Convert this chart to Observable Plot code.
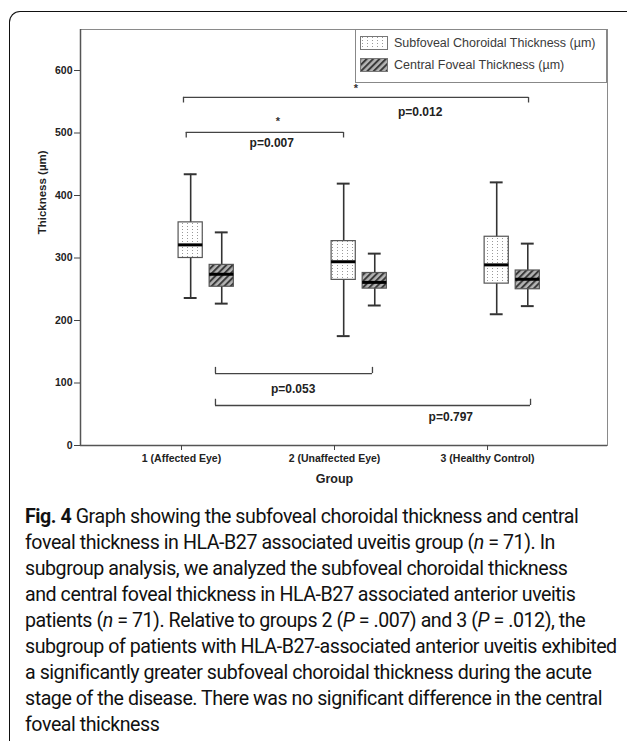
<!DOCTYPE html>
<html><head><meta charset="utf-8">
<script src="https://cdn.jsdelivr.net/npm/d3@7"></script>
<script src="https://cdn.jsdelivr.net/npm/@observablehq/plot@0.6"></script>
<style>
body{margin:0;background:#fff;width:627px;height:741px;overflow:hidden;position:relative;font-family:"Liberation Sans",Arial,sans-serif}
#outer{position:absolute;left:9px;top:11px;width:660px;height:780px;border-top:1.6px solid #111;border-left:1.6px solid #111;border-top-left-radius:11px;box-sizing:border-box}
#chart{position:absolute;left:0;top:0}
#legend{position:absolute;left:355px;top:29px;width:252px;height:54px;border:1px solid #888;box-sizing:border-box;background:#fff;font-size:12.5px;color:#3a3a3a}
#legend .item{position:absolute;left:4px;height:14px;display:flex;align-items:center;white-space:nowrap}
#legend svg{margin-right:6px}
#caption{position:absolute;left:25px;top:504px;font-family:Roboto,sans-serif;font-size:16.5px;line-height:26px;color:#111}
#caption div{white-space:nowrap}
#caption b{font-weight:700}
</style></head>
<body>
<svg width="0" height="0" style="position:absolute">
<defs>
<pattern id="dots" patternUnits="userSpaceOnUse" width="5" height="3">
<rect width="5" height="3" fill="#fff"/>
<rect x="2" y="1" width="1" height="1" fill="#999"/>
</pattern>
<pattern id="hatch" patternUnits="userSpaceOnUse" width="4.5" height="4.5" patternTransform="rotate(45)">
<rect width="4.5" height="4.5" fill="#b4b4b4"/>
<rect width="2" height="4.5" fill="#3a3a3a"/>
</pattern>
</defs></svg>
<div id="outer"></div>
<div id="chart"></div>
<div id="legend"></div>
<div id="caption"></div>
<script>
// ---- data ----
const groups = ["1 (Affected Eye)", "2 (Unaffected Eye)", "3 (Healthy Control)"];
const seriesNames = ["Subfoveal Choroidal Thickness (µm)", "Central Foveal Thickness (µm)"];
const sctLow    = [236, 175, 210];
const sctQ1     = [300, 265, 259];
const sctMedian = [321, 294, 289];
const sctQ3     = [357, 327, 334];
const sctHigh   = [434, 419, 421];
const cftLow    = [227, 224, 223];
const cftQ1     = [254, 251, 250];
const cftMedian = [274, 261, 266];
const cftQ3     = [289, 276, 280];
const cftHigh   = [341, 307, 323];
const yTicks = [0, 100, 200, 300, 400, 500, 600];
const xTicks = [1, 2, 3];
// significance brackets (group units / thickness units)
const compLabels = ["p=0.012", "p=0.007", "p=0.053", "p=0.797"];
const compStars  = ["*", "*", "", ""];
const compFrom   = [1.013, 1.031, 1.222, 1.222];
const compTo     = [3.268, 2.059, 2.248, 3.281];
const compLevel  = [557, 501, 115, 64];
const compSide   = ["top", "top", "bottom", "bottom"];
const compLabelX = [2.56, 1.59, 1.73, 2.76];
const compLabelY = [534, 483, 90, 45];
const compStarX  = [2.14, 1.63, 0, 0];
const compStarY  = [572, 518, 0, 0];
const captionLines = [
  "<b>Fig. 4</b> Graph showing the subfoveal choroidal thickness and central",
  "foveal thickness in HLA-B27 associated uveitis group (<i>n</i> = 71). In",
  "subgroup analysis, we analyzed the subfoveal choroidal thickness",
  "and central foveal thickness in HLA-B27 associated anterior uveitis",
  "patients (<i>n</i> = 71). Relative to groups 2 (<i>P</i> = .007) and 3 (<i>P</i> = .012), the",
  "subgroup of patients with HLA-B27-associated anterior uveitis exhibited",
  "a significantly greater subfoveal choroidal thickness during the acute",
  "stage of the disease. There was no significant difference in the central",
  "foveal thickness"
];

// ---- build tables ----
const OFF = [0.06, 0.263], HALF = 0.079, CAP = 0.042;
const stats = [[sctLow, sctQ1, sctMedian, sctQ3, sctHigh], [cftLow, cftQ1, cftMedian, cftQ3, cftHigh]];
const rows = [];
groups.forEach((g, i) => {
  stats.forEach((s, k) => {
    rows.push({s: k, x: i + 1 + OFF[k], lo: s[0][i], q1: s[1][i], med: s[2][i], q3: s[3][i], hi: s[4][i]});
  });
});
const comps = compLabels.map((l, i) => ({
  label: l, star: compStars[i], x1: compFrom[i], x2: compTo[i], y: compLevel[i],
  yEnd: compSide[i] === "top" ? compLevel[i] - 9 : compLevel[i] + 10,
  lx: compLabelX[i], ly: compLabelY[i], sx: compStarX[i], sy: compStarY[i]
}));
const stars = comps.filter(d => d.star);
const XMIN = 0.34, XMAX = 3.784;

const chart = Plot.plot({
  width: 627, height: 490,
  marginLeft: 80, marginRight: 20, marginTop: 29, marginBottom: 45,
  style: {fontFamily: "Liberation Sans, Arial, sans-serif", background: "transparent"},
  x: {domain: [XMIN, XMAX], axis: null},
  y: {domain: [0, 665.6], axis: null},
  marks: [
    Plot.frame({stroke: "#8a8a8a", strokeWidth: 1}),
    Plot.ruleY([0], {stroke: "#555", strokeWidth: 1.5}),
    Plot.ruleX([XMIN], {stroke: "#555", strokeWidth: 1.5}),
    Plot.axisY({ticks: yTicks, tickSize: 6, tickPadding: 2, fontSize: 10.5, fontWeight: "bold", stroke: "#444", fill: "#222", label: null}),
    Plot.axisX({ticks: xTicks, tickFormat: d => groups[d - 1], tickSize: 5, tickPadding: 4, fontSize: 10.5, fontWeight: "bold", stroke: "#444", fill: "#222", label: null}),
    Plot.text(["Thickness (µm)"], {frameAnchor: "left", textAnchor: "middle", y: () => 405, dx: -38, rotate: -90, fontSize: 11.5, fontWeight: "bold", fill: "#222"}),
    Plot.text(["Group"], {x: () => 2, y: () => 0, dy: 33, fontSize: 12.5, fontWeight: "bold", fill: "#222"}),
    // whiskers
    Plot.ruleX(rows, {x: "x", y1: "lo", y2: "hi", stroke: "#333", strokeWidth: 1.6}),
    Plot.ruleY(rows, {y: "lo", x1: d => d.x - CAP, x2: d => d.x + CAP, stroke: "#333", strokeWidth: 2}),
    Plot.ruleY(rows, {y: "hi", x1: d => d.x - CAP, x2: d => d.x + CAP, stroke: "#333", strokeWidth: 2}),
    // boxes
    Plot.rect(rows.filter(d => d.s === 0), {x1: d => d.x - HALF, x2: d => d.x + HALF, y1: "q1", y2: "q3", fill: "url(#dots)", stroke: "#555", strokeWidth: 1.2}),
    Plot.rect(rows.filter(d => d.s === 1), {x1: d => d.x - HALF, x2: d => d.x + HALF, y1: "q1", y2: "q3", fill: "url(#hatch)", stroke: "#555", strokeWidth: 1.2}),
    Plot.ruleY(rows, {y: "med", x1: d => d.x - HALF, x2: d => d.x + HALF, stroke: "#000", strokeWidth: 3}),
    // brackets
    Plot.ruleY(comps, {y: "y", x1: "x1", x2: "x2", stroke: "#444", strokeWidth: 1.3}),
    Plot.ruleX(comps, {x: "x1", y1: "y", y2: "yEnd", stroke: "#444", strokeWidth: 1.3}),
    Plot.ruleX(comps, {x: "x2", y1: "y", y2: "yEnd", stroke: "#444", strokeWidth: 1.3}),
    Plot.text(comps, {x: "lx", y: "ly", text: "label", fontSize: 12, fontWeight: "bold", fill: "#222"}),
    Plot.text(stars, {x: "sx", y: "sy", text: "star", fontSize: 11, fontWeight: "bold", fill: "#333"})
  ]
});
document.getElementById("chart").appendChild(chart);

// legend
const legend = document.getElementById("legend");
const fills = ["url(#dots)", "url(#hatch)"];
seriesNames.forEach((name, k) => {
  const it = document.createElement("div");
  it.className = "item";
  it.style.top = (k === 0 ? 6 : 28) + "px";
  it.innerHTML = `<svg width="28" height="14"><rect x="0.5" y="0.5" width="27" height="13" fill="${fills[k]}" stroke="#777"/></svg><span></span>`;
  it.querySelector("span").textContent = name;
  legend.appendChild(it);
});

// caption: fit font size (with slightly tightened tracking) so the widest line spans the reference width
const cap = document.getElementById("caption");
captionLines.forEach(l => { const d = document.createElement("div"); d.innerHTML = l; cap.appendChild(d); });
const LS = -0.45, target = 592, baseSize = 16.5;
cap.style.letterSpacing = LS + "px";
const ref = cap.children[5];
const n = ref.textContent.length;
const w = ref.getBoundingClientRect().width;
const fitted = baseSize * (target - n * LS) / (w - n * LS);
cap.style.fontSize = fitted.toFixed(2) + "px";
</script>
</body></html>
